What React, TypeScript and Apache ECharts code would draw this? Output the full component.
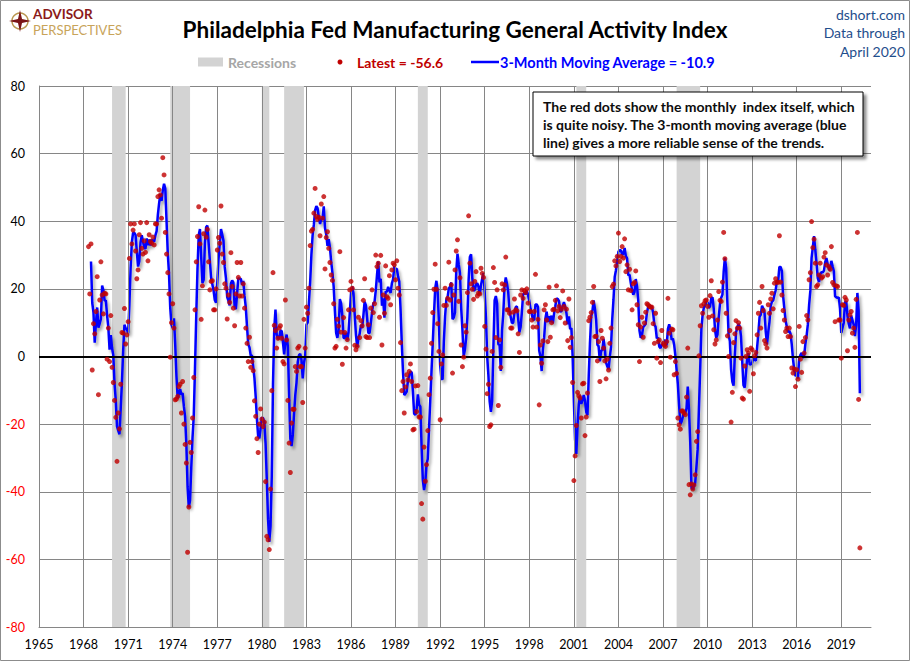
import React, { useEffect, useRef } from "react";
import * as echarts from "echarts";

// Monthly index, first value = May 1968
const START_YEAR = 1968;
const START_MONTH = 5;

const index1968to1969 = [
  32.5, 18.5, 33.3, -4, 9.7, 6.7, 13.3, 23.6,
  -11.3, 16.7, 28, 18.2, 12.6, 18.7, 18.5, -0.8, 8.4, -1.5, 12.1, -3.2,
];
const index1970s = [
  -7.7, -13, -18, -31, -16.7, -21.4, -8.2, 7.1, 6.9, 14.2, 3.7, 6.4,
  10.3, 29, 39.2, 33.3, 37.4, 39.2, 31.2, 23, 25.6, 36, 39.6, 32,
  30.3, 34.2, 30.8, 39.6, 28.3, 36, 34, 33.5, 35.3, 33, 39.2, 39.2,
  47.3, 49.3, 47.8, 40.9, 58.8, 53.7, 36.7, 30.3, 24.8, 18.5, -0.2, 10,
  15.6, 8.4, -12.8, -12.6, -11.8, -8.9, -8.2, -16.7, -7.4, -20, -26, -31.5,
  -57.9, -44.5, -25.4, -28.4, -18.2, -6.2, 13.8, 28, 35.5, 44.3, 33.3, 11,
  20.9, 36.3, 43.3, 35.3, 37.6, 28, 19.7, 22.2, 22.4, 13.8, 13.8, 20,
  31.5, 35.2, 33.5, 44.5, 30.3, 27.8, 21.5, 20.2, 11.1, 18.2, 16, 30.7,
  20.7, 14.3, 9.1, 18.5, 27.8, 23.4, 17.9, 27.8, 17.9, 21.5, 14.3, 8.4,
  3.9, -1.5, 5.7, -3.2, -1.5, -4.2, -13.1, -17.7, -24.3, -28.4, -20, -15.5,
];
const index1980s = [
  -18.5, -20.7, -19.4, -37, -53.2, -54.2, -57.1, -39.2, -10.1, 24.8, 9.2, 7.7,
  2.5, 5.4, 8.4, 9.1, 5.4, -1.5, -2.2, 16.7, 4.9, -13, -25.6, -34.3,
  -19.7, -15.6, -15.6, -3, -4.4, 2.5, 3, -3, -3, -13.6, 11, 2.5,
  14.6, 12.8, 20.2, 32.8, 37.1, 37.6, 42.4, 49.7, 41.4, 40.6, 41.2, 35.7,
  45.1, 40.9, 47.3, 25.9, 35.2, 36.9, 32, 27.8, 24.1, 22.5, 15.6, 2.5,
  3, 11, 9, 31, 7.2, -2.3, 11.5, 7.1, 2.5, 5, 13.8, 19.7,
  22.2, 20.2, 13.8, 3.3, 2, 3, 11.6, 5.6, 10.6, 9.1, 16.6, 23,
  5.9, 5.6, 9.4, 5.6, 14.3, 19.7, 13, 15.6, 30, 26.6, 27.6, 11.6,
  29.9, 3.4, 18.2, 12.8, 26.8, 17.7, 17.2, 23.9, 15.3, 25.6, 27.6, 27.1,
  22.7, 28.3, 20.2, 18.2, 4.1, -10.1, -7.4, -16.7, -9, -5.4, -6.9, -4.4,
];
const index1990s = [
  -2.2, -7.4, -21.7, -21.5, -8.7, -16.3, -8.6, -17.9, -17.9, -43.5, -48.1, -26.8,
  -36.9, -32, -21.9, -11.3, -6.4, 3.9, 13, 19.9, 27.3, 19.9, 9.7, 1.5,
  -18.7, -2.2, 0.5, 15.1, 20.2, 15.1, 17.2, 27.9, 16.7, 21.2, -4.9, 18.2,
  25.6, 31.2, 34.5, 16.3, 23.3, 3.4, -3, -0.2, 9.1, 7.2, 18.9, 41.6,
  27.6, 21.5, 19.9, 16.9, 22.2, 25.1, 17.9, 18.7, 18.5, 26.1, 24.6, 23.4,
  8.9, 2.2, -11, -8.2, -20.7, -20.2, 1.5, 26.3, 21.9, 5.6, 19.7, -14.5,
  4.9, -3.2, 21.5, 19.7, 21.2, 29.4, 13.8, 13.8, 12.8, 8.4, 8.4, 13.1,
  17, 13.8, 13.5, 6.7, 1.2, 18.2, 19.7, 17.2, 19.5, 18.9, 20, 15.8,
  13.3, 13.3, 10.8, 8.7, 13.3, 24.3, 8.7, 11, -14.3, 3.4, -2, 4.6,
  13.8, 15.3, 10.8, 4.4, 20.5, 5.7, 10, 13.8, 14, 16.6, 20.9, 13.5,
];
const index2000s = [
  14.8, 11.5, 14, 19.4, 14.8, 9.9, 14, 4.7, 17, 2.7, 5.6, -7.7,
  -36.7, -29.4, -20.4, -10.6, -11.6, -12.3, -18.2, -8.1, -7.9, -23.4, -17.9, -10.8,
  10.6, 11.6, 13, 16, 20.7, 5.9, 6, -1.3, 4.4, -7.4, 7.7, 5.4,
  2.5, -1.3, -6.6, -0.8, -4, 3.9, 8.4, 20.7, 21.4, 28.3, 26.8, 29.6,
  36.5, 28.1, 29.6, 32.5, 29.1, 34.8, 25.1, 27.1, 19.7, 25.8, 19.5, 13.8,
  21.5, 21.9, 25.3, 15.3, 9.4, -1.5, 8.7, 11.6, 5.7, 9.9, 13.1, 15.6,
  15.3, 14.8, 14.6, 14.6, 9.7, 3.9, 12.8, -0.5, 4.4, 4.9, -1.8, 7.7,
  3.9, 3.4, 3, 4.4, 17.2, 6.9, -0.2, 8.1, 7.9, -5.4, -1.5, -5,
  -18.2, -20.2, -21.5, -16.1, -16.1, -16.7, -17.2, -12, 2.5, -37.9, -40.9, -37.7,
  -39.2, -38, -35, -25.1, -22.2, 0.2, 9.1, 15, 12.8, 15.6, 16.5, 16.7,
];
const index2010s = [
  14.8, 11.6, 18, 22.4, 12, 7.9, 3.7, 4.9, 10.8, 19.2, 16.6, 16.3,
  22, 36.7, 28.9, 12.8, 6.1, 0, 7.7, -19.4, -10.6, 4.1, 6.7, 10.6,
  8.4, 10, 8.4, -0.5, -12.3, -12.6, -2.8, 0, 2, 1, -10.3, 2.5,
  2, -5.1, 0.2, 1.2, 6.4, 12.8, 16, 8.4, 20.7, 13.6, 4.7, 3.7,
  2.5, 15.3, 12.8, 17, 18.7, 14.1, 21.7, 23, 22, 21.9, 35.7, 22,
  18.2, 13.6, 10.8, 7.4, 8.4, 5.9, 8.4, 5.9, -3.4, -4.9, -3.7, -8.9,
  -3.9, -6.7, 8.9, -0.8, -4.7, 4.4, 1, 5.6, 12.1, 10.8, 22.7, 24.8,
  39.9, 32.2, 34.7, 27.6, 20.7, 21.2, 24.1, 27.6, 23.2, 23.6, 29.4, 30.7,
  27.1, 24.1, 26.6, 25.8, 32.5, 21.9, 21.2, 10.3, 20.9, 20.7, 10.8, 10.8,
  -0.5, 15.3, 15.1, 17.5, 16.7, 1.7, 10.8, 12.3, 13.3, 6.9, 8.4, 2.7,
];
const index2020 = [16.9, 36.7, -12.7, -56.6];

// Recessions (start / end as fractional years)
const recessionStarts = [1969.917, 1973.833, 1980.0, 1981.5, 1990.5, 2001.167, 2007.917];
const recessionEnds = [1970.833, 1975.167, 1980.5, 1982.833, 1991.167, 2001.833, 2009.5];

// Axis tick labels
const xTickYears = [
  1965, 1968, 1971, 1974, 1977, 1980, 1983, 1986, 1989, 1992, 1995, 1998,
  2001, 2004, 2007, 2010, 2013, 2016, 2019,
];
const X_MIN = 1965;
const X_MAX = 2021;
const Y_MIN = -80;
const Y_MAX = 80;
const Y_STEP = 20;

const noteLines = [
  "The red dots show the monthly  index itself, which",
  "is quite noisy. The 3-month moving average (blue",
  "line) gives a more reliable sense of the trends.",
];
const sourceLines = ["dshort.com", "Data through", "April 2020"];

const FONT = "Lato, 'Noto Sans', sans-serif";
const TOP_Z = 100;

export default function App() {
  const ref = useRef<HTMLDivElement>(null);

  useEffect(() => {
    if (!ref.current) return;
    const chart = echarts.init(ref.current, undefined, { renderer: "svg" });

    const monthly = [
      ...index1968to1969,
      ...index1970s,
      ...index1980s,
      ...index1990s,
      ...index2000s,
      ...index2010s,
      ...index2020,
    ];
    const xs = monthly.map((_, i) => START_YEAR + (START_MONTH - 1 + i) / 12);
    const dots = monthly.map((v, i) => [xs[i], v]);
    const ma = monthly
      .map((_, i) =>
        i < 2 ? null : [xs[i], Math.round(((monthly[i] + monthly[i - 1] + monthly[i - 2]) / 3) * 10) / 10]
      )
      .filter((d) => d !== null) as number[][];

    const latest = monthly[monthly.length - 1];
    const latestMa = ma[ma.length - 1][1];

    const legendY = 62;

    chart.setOption({
      animation: false,
      backgroundColor: "#ffffff",
      title: {
        text: "Philadelphia Fed Manufacturing General Activity Index",
        left: "center",
        top: 13,
        textStyle: { fontFamily: FONT, fontSize: 22.5, fontWeight: "bold", color: "#000" },
      },
      grid: { left: 39, right: 39, top: 86, bottom: 34, containLabel: false },
      xAxis: {
        type: "value",
        min: X_MIN,
        max: X_MAX,
        interval: 3,
        axisLine: { show: true, onZero: false, lineStyle: { color: "#868686", width: 1 } },
        axisTick: { show: false },
        splitLine: { show: false },
        axisLabel: {
          showMaxLabel: false,
          margin: 11,
          color: "#000",
          fontFamily: FONT,
          fontSize: 12.5,
          formatter: (v: number) => String(Math.round(v)),
        },
      },
      yAxis: {
        type: "value",
        min: Y_MIN,
        max: Y_MAX,
        interval: Y_STEP,
        axisLine: { show: true, lineStyle: { color: "#868686", width: 1 } },
        axisTick: { show: false },
        splitLine: { show: true, lineStyle: { color: "#868686", width: 1 } },
        axisLabel: {
          margin: 14,
          fontFamily: FONT,
          fontSize: 12.5,
          color: (v: any) => (Number(v) < 0 ? "#ff0000" : "#000000"),
        },
      },
      series: [
        {
          name: "grid-x",
          type: "line",
          data: [],
          z: 1,
          silent: true,
          markLine: {
            silent: true,
            symbol: "none",
            label: { show: false },
            lineStyle: { color: "#868686", width: 1, type: "solid" },
            data: xTickYears.slice(1).map((y) => ({ xAxis: y })),
          },
        },
        {
          name: "Recessions",
          type: "line",
          data: [],
          z: 2,
          silent: true,
          markArea: {
            silent: true,
            itemStyle: { color: "#d3d3d3" },
            data: recessionStarts.map((s, i) => [{ xAxis: s }, { xAxis: recessionEnds[i] }]),
          },
        },
        {
          name: "zero",
          type: "line",
          data: [],
          z: 3,
          silent: true,
          markLine: {
            silent: true,
            symbol: "none",
            label: { show: false },
            lineStyle: { color: "#000", width: 2, type: "solid" },
            data: [{ yAxis: 0 }],
          },
        },
        {
          name: "3-Month Moving Average",
          type: "line",
          data: ma,
          z: 4,
          showSymbol: false,
          symbol: "none",
          lineStyle: {
            color: "#0000ff",
            width: 2.5,
            shadowColor: "rgba(0,0,0,0.35)",
            shadowBlur: 3,
            shadowOffsetX: 2,
            shadowOffsetY: 3,
          },
        },
        {
          name: "Latest",
          type: "scatter",
          data: dots,
          z: 5,
          symbol: "circle",
          symbolSize: 5,
          itemStyle: { color: "#c00000" },
        },
      ],
      graphic: [
        // outer border
        {
          type: "rect",
          z: TOP_Z,
          shape: { x: 0.5, y: 0.5, width: 909, height: 660 },
          style: { fill: "none", stroke: "#8c8c8c", lineWidth: 1 },
          silent: true,
        },
        // logo
        {
          type: "circle",
          z: TOP_Z,
          silent: true,
          shape: { cx: 20, cy: 21, r: 8 },
          style: { fill: "none", stroke: "#b8964f", lineWidth: 1.5 },
        },
        {
          type: "polygon",
          z: TOP_Z,
          silent: true,
          shape: {
            points: [
              [20, 10], [22, 19], [31, 21], [22, 23], [20, 32], [18, 23], [9, 21], [18, 19],
            ],
          },
          style: { fill: "#7a1416" },
        },
        {
          type: "text",
          z: TOP_Z,
          silent: true,
          x: 33,
          y: 14,
          style: {
            text: "ADVISOR",
            fill: "#8b1a1a",
            font: "bold 13.5px " + FONT,
            lineHeight: 13,
            verticalAlign: "middle",
          },
        },
        {
          type: "text",
          z: TOP_Z,
          silent: true,
          x: 33,
          y: 30,
          style: {
            text: "PERSPECTIVES",
            fill: "#c8a45a",
            font: "13px " + FONT,
            lineHeight: 12,
            verticalAlign: "middle",
          },
        },
        // top-right source texts
        ...sourceLines.map((t, i) => ({
          type: "text",
          z: TOP_Z,
          silent: true,
          x: 905,
          y: 14 + i * 18.5,
          style: {
            text: t,
            fill: "#1f4e8c",
            font: "14px " + FONT,
            align: "right",
            verticalAlign: "middle",
          },
        })),
        // legend
        {
          type: "rect",
          z: TOP_Z,
          silent: true,
          shape: { x: 198, y: legendY - 4.5, width: 25, height: 9 },
          style: { fill: "#d3d3d3" },
        },
        {
          type: "text",
          z: TOP_Z,
          silent: true,
          x: 228,
          y: legendY,
          style: { text: "Recessions", fill: "#a6a6a6", font: "bold 14px " + FONT, verticalAlign: "middle" },
        },
        {
          type: "circle",
          z: TOP_Z,
          silent: true,
          shape: { cx: 340, cy: legendY, r: 2.5 },
          style: { fill: "#c00000" },
        },
        {
          type: "text",
          z: TOP_Z,
          silent: true,
          x: 357,
          y: legendY,
          style: {
            text: "Latest = " + latest.toFixed(1),
            fill: "#c00000",
            font: "bold 14px " + FONT,
            verticalAlign: "middle",
          },
        },
        {
          type: "line",
          z: TOP_Z,
          silent: true,
          shape: { x1: 471, y1: legendY, x2: 499, y2: legendY },
          style: { stroke: "#0000ff", lineWidth: 2.5 },
        },
        {
          type: "text",
          z: TOP_Z,
          silent: true,
          x: 500,
          y: legendY,
          style: {
            text: "3-Month Moving Average = " + latestMa.toFixed(1),
            fill: "#0000ff",
            font: "bold 14.5px " + FONT,
            verticalAlign: "middle",
          },
        },
        // annotation box
        {
          type: "rect",
          z: TOP_Z,
          silent: true,
          shape: { x: 533, y: 92, width: 330, height: 64 },
          style: {
            fill: "#ffffff",
            stroke: "#000000",
            lineWidth: 1,
            shadowColor: "rgba(0,0,0,0.45)",
            shadowBlur: 3,
            shadowOffsetX: 3,
            shadowOffsetY: 3,
          },
        },
        ...noteLines.map((t, i) => ({
          type: "text",
          z: TOP_Z + 1,
          silent: true,
          x: 543,
          y: 106 + i * 18,
          style: {
            text: t,
            fill: "#0d0d0d",
            font: "bold 14px " + FONT,
            verticalAlign: "middle",
          },
        })),
      ],
    });

    return () => chart.dispose();
  }, []);

  return (
    <div
      ref={ref}
      style={{ position: "fixed", left: 0, top: 0, width: 910, height: 661, background: "#fff" }}
    />
  );
}
